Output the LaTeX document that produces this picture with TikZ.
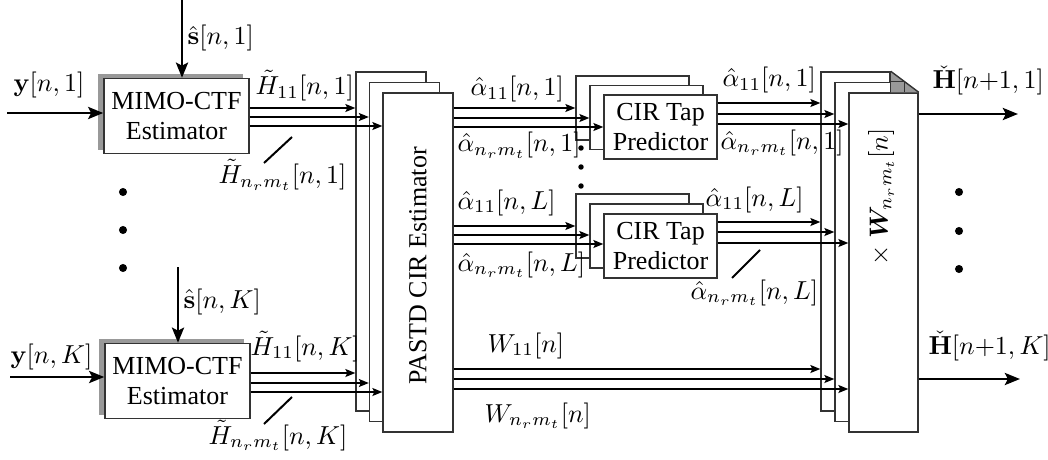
\RequirePackage{fix-cm}
\documentclass[tikz,border=0pt]{standalone}
\usepackage{amsmath,bm}
\usepackage[no-math]{fontspec}
\setmainfont{Liberation Serif}
\usetikzlibrary{arrows.meta,calc,shadows}
\begin{document}
\begin{tikzpicture}[x=0.3846pt,y=-0.3846pt,font=\fontsize{10}{11.9}\selectfont,
  arr/.style={-{Stealth[length=3.85pt,width=3.1pt,inset=0.77pt]}, line width=0.46pt},
  bigarr/.style={-{Stealth[length=5.8pt,width=4.6pt,inset=1.15pt]}, line width=1.15pt},
  blk/.style={draw=black!80, fill=white, line width=0.54pt, inner sep=0pt, align=center},
  mimo/.style={blk, minimum width=55.77pt, minimum height=28.85pt,
    drop shadow={shadow xshift=-2.31pt, shadow yshift=1.54pt, fill=black!40, opacity=1}},
  tall/.style={blk, minimum width=26.92pt, minimum height=130.4pt},
  cir/.style={blk, minimum width=43.46pt, minimum height=24.62pt},
  lab/.style={inner sep=0pt, anchor=base west},
  bigdot/.style={circle, fill=black, inner sep=0pt, minimum size=3.1pt},
  smalldot/.style={circle, fill=black, inner sep=0pt, minimum size=2.1pt},
  slash/.style={line width=0.77pt}]
\useasboundingbox (0,0) rectangle (1048,459);

% MIMO-CTF estimators
\node[mimo] (m1) at (176.5,116) {MIMO-CTF\\Estimator};
\node[mimo] (m2) at (177.5,381) {MIMO-CTF\\Estimator};

% PASTD stack
\node[tall] (pa) at (391,241.5) {};
\node[tall] (pb) at (404.5,252) {};
\node[tall] (pc) at (418,262.5) {};
\node[rotate=90] (ptxt) at (418,266) {PASTD CIR Estimator};

% CIR tap predictor stacks
\node[cir] (ca) at (632.5,108) {};
\node[cir] (cb) at (646.5,117.5) {};
\node[cir] (cc) at (660.5,127) {CIR Tap\\Predictor};
\node[cir] (da) at (632.5,226) {};
\node[cir] (db) at (646.5,236) {};
\node[cir] (dc) at (660.5,246) {CIR Tap\\Predictor};

% right stack
\node[tall, minimum width=26.54pt] (ra) at (855.5,241.5) {};
\node[tall, minimum width=26.54pt] (rb) at (869.5,252) {};
\node[tall, minimum width=26.54pt] (rc) at (883.5,262.5) {};
\node[rotate=90] (rtxt) at (881,197) {$\times\ \boldsymbol{W}_{n_r m_t}[n]$};
% folded corner
\fill[black!40] (ra.north east) -- (rc.north east) -- (ra.east |- rc.north) -- cycle;
\draw[draw=black!80, line width=0.54pt] (ra.north east) -- (rc.north east);
\draw[draw=black!80, line width=0.54pt] (ra.north east) -- (ra.east |- rc.north);
\draw[draw=black!80, line width=0.54pt] (ra.east |- rb.north) -- (rb.north east) -- (rb.east |- rc.north);

% thick inputs / outputs
\coordinate (yin1) at (7,113);
\coordinate (sin1) at (182,0);
\coordinate (yin2) at (10,377);
\coordinate (sin2) at (178,267);
\coordinate (out1) at (1018,114);
\coordinate (out2) at (1020,379);
\draw[bigarr] (yin1) -- (yin1 -| m1.west);
\draw[bigarr] (sin1) -- (sin1 |- m1.north);
\draw[bigarr] (yin2) -- (yin2 -| m2.west);
\draw[bigarr] (sin2) -- (sin2 |- m2.north);
\draw[bigarr] (rc.east |- out1) -- (out1);
\draw[bigarr] (rc.east |- out2) -- (out2);

% thin connectors
\foreach \yy/\tgt in {108/pa,117/pb,126/pc}
  \draw[arr] (m1.east |- 0,\yy) -- (\tgt.west |- 0,\yy);
\foreach \yy/\tgt in {373/pa,383/pb,392/pc}
  \draw[arr] (m2.east |- 0,\yy) -- (\tgt.west |- 0,\yy);
\foreach \yy/\tgt in {108/ca,118/cb,127/cc}
  \draw[arr] (pc.east |- 0,\yy) -- (\tgt.west |- 0,\yy);
\foreach \yy/\tgt in {226/da,235/db,244/dc}
  \draw[arr] (pc.east |- 0,\yy) -- (\tgt.west |- 0,\yy);
\foreach \yy/\tgt in {369/ra,379/rb,389/rc}
  \draw[arr] (pc.east |- 0,\yy) -- (\tgt.west |- 0,\yy);
\foreach \yy/\tgt in {103/ra,114/rb,124/rc}
  \draw[arr] (cc.east |- 0,\yy) -- (\tgt.west |- 0,\yy);
\foreach \yy/\tgt in {222/ra,232/rb,243/rc}
  \draw[arr] (dc.east |- 0,\yy) -- (\tgt.west |- 0,\yy);

% bus slashes
\coordinate (sa1) at (264,163); \coordinate (sa2) at (292,137);
\coordinate (sb1) at (264,424); \coordinate (sb2) at (292,397);
\coordinate (sc1) at (732,278); \coordinate (sc2) at (760,250);
\draw[slash] (sa1) -- (sa2);
\draw[slash] (sb1) -- (sb2);
\draw[slash] (sc1) -- (sc2);

% dots
\node[bigdot] (d1) at (123,192) {};
\node[bigdot] (d2) at (123,230) {};
\node[bigdot] (d3) at (123,268) {};
\node[bigdot] (d4) at (959,192) {};
\node[bigdot] (d5) at (959,231) {};
\node[bigdot] (d6) at (959,269) {};
\node[smalldot] (d7) at (581,148) {};
\node[smalldot] (d8) at (581,167) {};
\node[smalldot] (d9) at (581,186) {};

% labels
\node[lab] (ly1) at (13,91.5) {$\mathbf{y}[n,1]$};
\node[lab] (ls1) at (187,45) {$\hat{\mathbf{s}}[n,1]$};
\node[lab] (lh1) at (255,94.5) {$\tilde{H}_{11}[n,1]$};
\node[lab] (lhn1) at (218,183.5) {$\tilde{H}_{n_r m_t}[n,1]$};
\node[lab] (lsK) at (183,308) {$\hat{\mathbf{s}}[n,K]$};
\node[lab] (lyK) at (10,363) {$\mathbf{y}[n,K]$};
\node[lab] (lhK) at (250,355) {$\tilde{H}_{11}[n,K]$};
\node[lab] (lhnK) at (208,444) {$\tilde{H}_{n_r m_t}[n,K]$};
\node[lab] (la1) at (470,96) {$\hat{\alpha}_{11}[n,1]$};
\node[lab] (lan1) at (457,151.5) {$\hat{\alpha}_{n_r m_t}[n,1]$};
\node[lab] (laL) at (457,209) {$\hat{\alpha}_{11}[n,L]$};
\node[lab] (lanL) at (457,271) {$\hat{\alpha}_{n_r m_t}[n,L]$};
\node[lab] (lb1) at (722,87) {$\hat{\alpha}_{11}[n,1]$};
\node[lab] (lbn1) at (720,149) {$\hat{\alpha}_{n_r m_t}[n,1]$};
\node[lab] (lbL) at (705,206) {$\hat{\alpha}_{11}[n,L]$};
\node[lab] (lbnL) at (690,299) {$\hat{\alpha}_{n_r m_t}[n,L]$};
\node[lab] (lw1) at (487,352) {$W_{11}[n]$};
\node[lab] (lwn) at (484,422) {$W_{n_r m_t}[n]$};
\node[lab] (lo1) at (932,89) {$\check{\mathbf{H}}[n{+}1,1]$};
\node[lab] (loK) at (928,354) {$\check{\mathbf{H}}[n{+}1,K]$};
\end{tikzpicture}
\end{document}
